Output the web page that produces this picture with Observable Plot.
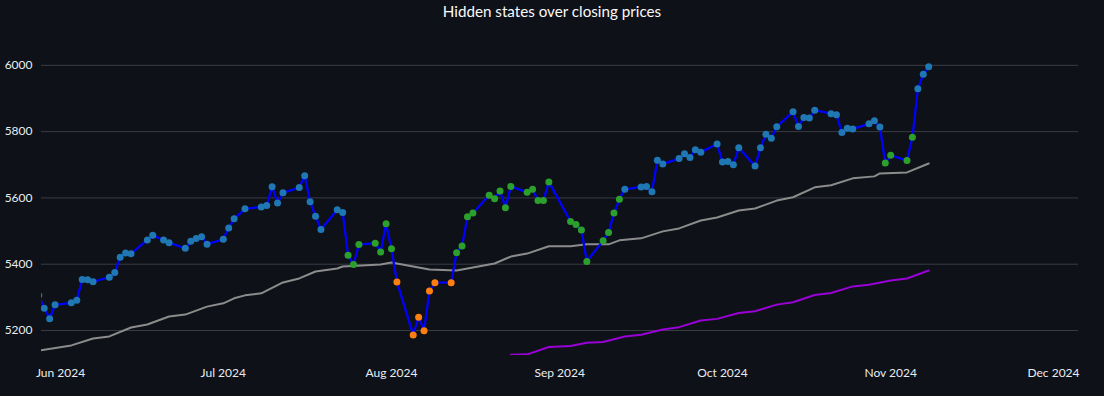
<!DOCTYPE html>
<html><head><meta charset="utf-8">
<script src="https://cdn.jsdelivr.net/npm/d3@7"></script>
<script src="https://cdn.jsdelivr.net/npm/@observablehq/plot@0.6"></script>
<style>
html,body{margin:0;padding:0;background:#0e1117;}
#title{height:28px;line-height:23px;text-align:center;color:#fafafa;font-family:Lato,"Open Sans",sans-serif;font-size:15.2px;}
#chart svg{display:block;}
</style></head><body>
<div id="title">Hidden states over closing prices</div>
<div id="chart"></div>
<script>
// Closing prices (trading days)
const dates = [
"2024-05-28","2024-05-29","2024-05-30","2024-05-31",
"2024-06-03","2024-06-04","2024-06-05","2024-06-06","2024-06-07","2024-06-10","2024-06-11","2024-06-12","2024-06-13","2024-06-14","2024-06-17","2024-06-18","2024-06-20","2024-06-21","2024-06-24","2024-06-25","2024-06-26","2024-06-27","2024-06-28",
"2024-07-01","2024-07-02","2024-07-03","2024-07-05","2024-07-08","2024-07-09","2024-07-10","2024-07-11","2024-07-12","2024-07-15","2024-07-16","2024-07-17","2024-07-18","2024-07-19","2024-07-22","2024-07-23","2024-07-24","2024-07-25","2024-07-26","2024-07-29","2024-07-30","2024-07-31",
"2024-08-01","2024-08-02","2024-08-05","2024-08-06","2024-08-07","2024-08-08","2024-08-09","2024-08-12","2024-08-13","2024-08-14","2024-08-15","2024-08-16","2024-08-19","2024-08-20","2024-08-21","2024-08-22","2024-08-23","2024-08-26","2024-08-27","2024-08-28","2024-08-29","2024-08-30",
"2024-09-03","2024-09-04","2024-09-05","2024-09-06","2024-09-09","2024-09-10","2024-09-11","2024-09-12","2024-09-13","2024-09-16","2024-09-17","2024-09-18","2024-09-19","2024-09-20","2024-09-23","2024-09-24","2024-09-25","2024-09-26","2024-09-27","2024-09-30",
"2024-10-01","2024-10-02","2024-10-03","2024-10-04","2024-10-07","2024-10-08","2024-10-09","2024-10-10","2024-10-11","2024-10-14","2024-10-15","2024-10-16","2024-10-17","2024-10-18","2024-10-21","2024-10-22","2024-10-23","2024-10-24","2024-10-25","2024-10-28","2024-10-29","2024-10-30","2024-10-31",
"2024-11-01","2024-11-04","2024-11-05","2024-11-06","2024-11-07","2024-11-08"];
const closes = [
5306.04,5266.95,5235.48,5277.51,
5283.40,5291.34,5354.03,5352.96,5346.99,5360.79,5375.32,5421.03,5433.74,5431.60,5473.23,5487.03,5473.17,5464.62,5447.87,5469.30,5477.90,5482.87,5460.48,
5475.09,5509.01,5537.02,5567.19,5572.85,5576.98,5633.91,5584.54,5615.35,5631.22,5667.20,5588.27,5544.59,5505.00,5564.41,5555.74,5427.13,5399.22,5459.10,5463.54,5436.44,5522.30,
5446.68,5346.56,5186.33,5240.03,5199.50,5319.31,5344.16,5344.39,5434.43,5455.21,5543.22,5554.25,5608.25,5597.12,5620.85,5570.64,5634.61,5616.84,5625.80,5592.18,5591.96,5648.40,
5528.93,5520.07,5503.41,5408.42,5471.05,5495.52,5554.13,5595.76,5626.02,5633.09,5634.58,5618.26,5713.64,5702.55,5718.57,5732.93,5722.26,5745.37,5738.17,5762.48,
5708.75,5709.54,5699.94,5751.07,5695.94,5751.13,5792.04,5780.05,5815.03,5859.85,5815.26,5842.47,5841.47,5864.67,5853.98,5851.20,5797.42,5809.86,5808.12,5823.52,5832.92,5813.67,5705.45,
5728.80,5712.69,5782.76,5929.04,5973.10,5995.54];
// Hidden state per day (0, 1, 2)
const states = [
0,0,0,0,
0,0,0,0,0,0,0,0,0,0,0,0,0,0,0,0,0,0,0,
0,0,0,0,0,0,0,0,0,0,0,0,0,0,0,0,2,2,2,2,2,2,
2,1,1,1,1,1,1,1,2,2,2,2,2,2,2,2,2,2,2,2,2,2,
2,2,2,2,2,2,2,2,0,0,0,0,0,0,0,0,0,0,0,0,
0,0,0,0,0,0,0,0,0,0,0,0,0,0,0,0,0,0,0,0,0,0,2,
2,2,2,0,0,0];
const stateColors = ["#1f77b4","#ff7f0e","#2ca02c"];

// Shorter moving average (gray)
const maShortDates = ["2024-05-28","2024-06-03","2024-06-07","2024-06-10","2024-06-14","2024-06-17","2024-06-21","2024-06-24","2024-06-28","2024-07-01","2024-07-03","2024-07-05","2024-07-08","2024-07-12","2024-07-15","2024-07-18","2024-07-22","2024-07-23","2024-07-30","2024-08-01","2024-08-05","2024-08-08","2024-08-13","2024-08-15","2024-08-19","2024-08-20","2024-08-23","2024-08-26","2024-08-30","2024-09-03","2024-09-06","2024-09-10","2024-09-12","2024-09-16","2024-09-20","2024-09-23","2024-09-27","2024-09-30","2024-10-04","2024-10-07","2024-10-11","2024-10-14","2024-10-18","2024-10-21","2024-10-25","2024-10-29","2024-10-30","2024-11-04","2024-11-08"];
const maShortValues = [5139,5155,5176,5182,5209,5218,5242,5248,5272,5282,5297,5306,5312,5345,5357,5378,5387,5393,5399,5405,5393,5384,5381,5387,5399,5402,5423,5432,5454,5454,5460,5460,5472,5478,5499,5508,5532,5541,5562,5568,5592,5602,5632,5638,5659,5665,5674,5677,5704];

// Longer moving average (purple)
const maLongDates = ["2024-08-23","2024-08-26","2024-08-30","2024-09-03","2024-09-06","2024-09-09","2024-09-13","2024-09-16","2024-09-20","2024-09-23","2024-09-27","2024-09-30","2024-10-04","2024-10-07","2024-10-11","2024-10-14","2024-10-18","2024-10-21","2024-10-25","2024-10-28","2024-11-01","2024-11-04","2024-11-08"];
const maLongValues = [5127,5128,5150,5153,5163,5165,5182,5187,5203,5210,5230,5235,5253,5258,5278,5285,5307,5313,5333,5338,5351,5357,5381];

const yTicks = [5200,5400,5600,5800,6000];
const xTicks = ["2024-06-01","2024-07-01","2024-08-01","2024-09-01","2024-10-01","2024-11-01","2024-12-01"];

const parse = s => new Date(s + "T00:00:00Z");
const prices = dates.map((d,i) => ({date: parse(d), close: closes[i], state: states[i]}));
const maShort = maShortDates.map((d,i) => ({date: parse(d), v: maShortValues[i]}));
const maLong = maLongDates.map((d,i) => ({date: parse(d), v: maLongValues[i]}));

const chart = Plot.plot({
  width: 1104, height: 368,
  marginLeft: 41, marginRight: 26, marginTop: 12, marginBottom: 41,
  style: {background: "transparent", color: "#e8ecf2", fontFamily: "Lato, 'Open Sans', sans-serif", fontSize: "12px"},
  x: {type: "utc", domain: [new Date(Date.UTC(2024,4,28,12)), new Date(Date.UTC(2024,11,5,14,34))]},
  y: {domain: [5124.5, 6075]},
  marks: [
    Plot.gridY(yTicks, {stroke: "#3a3c46", strokeOpacity: 1, strokeWidth: 1}),
    Plot.axisY(yTicks, {tickSize: 0, tickPadding: 9, label: null, fontSize: 12, fill: "#e8ecf2", tickFormat: d => String(d)}),
    Plot.axisX(xTicks.map(parse), {tickSize: 0, tickPadding: 13, label: null, fontSize: 12, fill: "#e8ecf2", tickFormat: d3.utcFormat("%b %Y")}),
    Plot.line(maShort, {x: "date", y: "v", stroke: "#8c8c8c", strokeWidth: 2, clip: true}),
    Plot.line(maLong, {x: "date", y: "v", stroke: "#9a00d8", strokeWidth: 2, clip: true}),
    Plot.line(prices, {x: "date", y: "close", stroke: "#0000ff", strokeWidth: 2.3, clip: true}),
    Plot.dot(prices, {x: "date", y: "close", r: 3.5, fill: d => stateColors[d.state], stroke: "none", clip: true})
  ]
});
document.getElementById("chart").appendChild(chart);
</script>
</body></html>
